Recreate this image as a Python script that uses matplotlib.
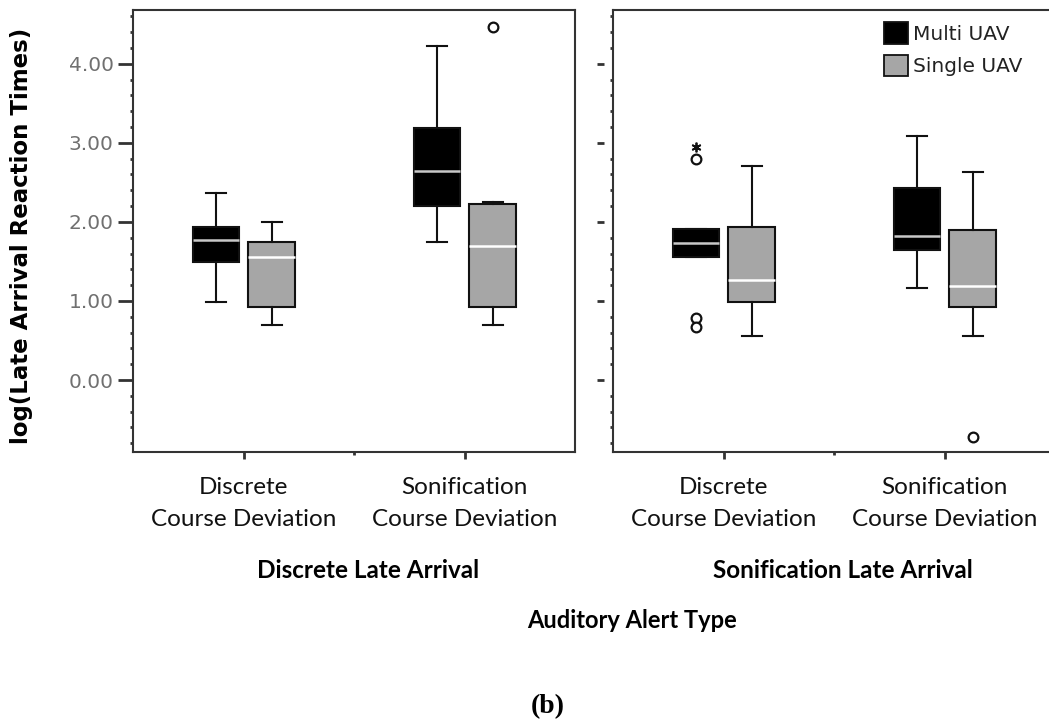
import matplotlib
matplotlib.use("Agg")
import matplotlib.pyplot as plt
from matplotlib.patches import Patch
from matplotlib.ticker import MultipleLocator, FixedLocator

# ---- data ----
course_dev = ["Discrete\nCourse Deviation", "Sonification\nCourse Deviation"]
late_arrival = ["Discrete Late Arrival", "Sonification Late Arrival"]
groups = ["Multi UAV", "Single UAV"]

# box stats per panel (late arrival) -> per course deviation type
# order: [whislo, q1, med, q3, whishi]
multi_stats = [
    [[0.99, 1.49, 1.77, 1.93, 2.36], [1.75, 2.20, 2.64, 3.19, 4.23]],
    [[1.55, 1.55, 1.73, 1.91, 1.91], [1.17, 1.65, 1.82, 2.43, 3.09]],
]
single_stats = [
    [[0.69, 0.92, 1.55, 1.74, 2.00], [0.69, 0.92, 1.70, 2.23, 2.25]],
    [[0.56, 0.99, 1.27, 1.93, 2.71], [0.56, 0.92, 1.19, 1.90, 2.63]],
]
multi_out = [[[], []], [[2.80, 0.78, 0.67], []]]
single_out = [[[], [4.47]], [[], [-0.72]]]
multi_extreme = [[[], []], [[2.95], []]]

colors = ["#000000", "#a6a6a6"]
median_colors = ["#c8c8c8", "#ffffff"]

W, H = 1049, 725
fig = plt.figure(figsize=(W / 100, H / 100), dpi=100)
ax1 = fig.add_axes([133 / W, 273 / H, 442 / W, 442 / H])
ax2 = fig.add_axes([613 / W, 273 / H, 442 / W, 442 / H])

cat_font = ["Lato", "DejaVu Sans"]
frame_col = "#333333"


def make_stats(vals, fl):
    lo, q1, med, q3, hi = vals
    return dict(whislo=lo, q1=q1, med=med, q3=q3, whishi=hi, fliers=fl)


for p, ax in enumerate([ax1, ax2]):
    for g, (stats, outs) in enumerate([(multi_stats, multi_out), (single_stats, single_out)]):
        bstats = [make_stats(stats[p][c], outs[p][c]) for c in range(2)]
        pos = [c + 1 + (-0.125 if g == 0 else 0.127) for c in range(2)]
        ax.bxp(bstats, positions=pos, widths=0.21, capwidths=0.09, patch_artist=True,
               boxprops=dict(facecolor=colors[g], edgecolor="#111111", linewidth=1.5),
               medianprops=dict(color=median_colors[g], linewidth=1.8),
               whiskerprops=dict(color="#111111", linewidth=1.5),
               capprops=dict(color="#111111", linewidth=1.5),
               flierprops=dict(marker="o", markersize=7, markerfacecolor="white",
                               markeredgecolor="#111111", markeredgewidth=1.6))
    for c in range(2):
        ext = multi_extreme[p][c]
        if ext:
            ax.plot([c + 1 - 0.125] * len(ext), ext, linestyle="none",
                    marker=(6, 2, 0), markersize=7, color="#111111", markeredgewidth=1.3)

    ax.set_xlim(0.5, 2.5)
    ax.set_ylim(-0.91, 4.68)
    for s in ax.spines.values():
        s.set_color(frame_col)
        s.set_linewidth(1.5)
    ax.xaxis.set_major_locator(FixedLocator([1, 2]))
    ax.xaxis.set_minor_locator(FixedLocator([1.5]))
    ax.set_xticklabels(course_dev, fontsize=17.5, family=cat_font, linespacing=1.65, color="#111111")
    ax.tick_params(axis="x", which="major", direction="out", length=5, width=2, pad=13, color=frame_col)
    ax.tick_params(axis="x", which="minor", direction="out", length=2, width=2, color=frame_col)
    ax.yaxis.set_major_locator(MultipleLocator(1.0))
    ax.yaxis.set_minor_locator(MultipleLocator(0.2))
    ax.tick_params(axis="y", which="minor", direction="out", length=2, width=2, color=frame_col)

ax1.set_yticks([0, 1, 2, 3, 4])
ax1.set_yticklabels(["0.00", "1.00", "2.00", "3.00", "4.00"], fontsize=14.5, color="#707070")
ax1.tick_params(axis="y", which="major", direction="out", length=11, width=2, pad=3, color=frame_col)
ax1.set_ylabel("log(Late Arrival Reaction Times)", fontsize=16.5, fontweight="bold")
ax1.yaxis.set_label_coords(-0.226, 0.49)

# right panel: detached major ticks, no labels
ax2.tick_params(axis="y", which="major", length=0, labelleft=False)
sec = ax2.secondary_yaxis(-0.02)
sec.set_yticks([0, 1, 2, 3, 4])
sec.spines["left"].set_color("none")
sec.tick_params(axis="y", direction="out", length=5, width=2, labelleft=False, color=frame_col)

leg = ax2.legend(handles=[Patch(facecolor=colors[0], edgecolor="#111111", linewidth=1.3, label=groups[0]),
                          Patch(facecolor=colors[1], edgecolor="#111111", linewidth=1.3, label=groups[1])],
                 loc="upper left", bbox_to_anchor=(0.613, 0.972), frameon=False,
                 prop={"family": "DejaVu Sans", "size": 14.5},
                 handlelength=1.2, handleheight=1.25, handletextpad=0.22, labelspacing=0.55,
                 borderaxespad=0.0, borderpad=0.0)
for t in leg.get_texts():
    t.set_color("#222222")

fig.text(368 / W, 1 - 570 / H, late_arrival[0], ha="center", va="center", fontsize=17.5,
         family=cat_font, fontweight="bold")
fig.text(843 / W, 1 - 570 / H, late_arrival[1], ha="center", va="center", fontsize=17.5,
         family=cat_font, fontweight="bold")
fig.text(632 / W, 1 - 621 / H, "Auditory Alert Type", ha="center", va="center", fontsize=17,
         family=cat_font, fontweight="bold")
fig.text(548 / W, 1 - 707 / H, "(b)", ha="center", va="center", fontsize=20,
         family=["Liberation Serif", "DejaVu Serif"], fontweight="bold")

fig.savefig("out.png", dpi=100)
